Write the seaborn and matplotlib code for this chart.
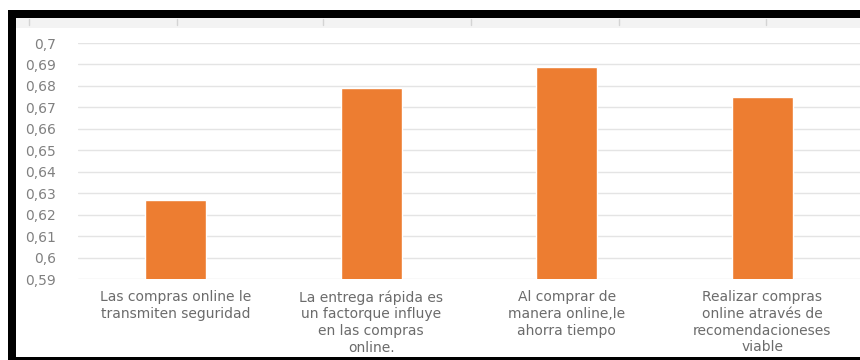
import matplotlib
matplotlib.use("Agg")
import matplotlib.pyplot as plt
from matplotlib.patches import Rectangle
from matplotlib.lines import Line2D
from matplotlib.ticker import FuncFormatter, MultipleLocator
import pandas as pd
import seaborn as sns

# Survey items and their mean scores
categories = [
    "Las compras online le\ntransmiten seguridad",
    "La entrega rápida es\nun factorque influye\nen las compras\nonline.",
    "Al comprar de\nmanera online,le\nahorra tiempo",
    "Realizar compras\nonline através de\nrecomendacioneses\nviable",
]
scores = [0.627, 0.679, 0.689, 0.675]
y_min, y_max, y_step = 0.59, 0.70, 0.01

df = pd.DataFrame({"item": categories, "score": scores})

sns.set_style("white")
plt.rcParams["font.family"] = ["DejaVu Sans"]

W, H = 860, 360
fig = plt.figure(figsize=(W / 100, H / 100), dpi=100)
fig.patch.set_facecolor("white")

# plot area in pixel terms
left_px, right_px = 78, 860
top_px, bottom_px = 43, 279
ax = fig.add_axes([left_px / W, 1 - bottom_px / H,
                   (right_px - left_px) / W, (bottom_px - top_px) / H])

sns.barplot(data=df, x="item", y="score", color="#ED7D31", width=0.31,
            saturation=1, ax=ax, zorder=3)

ax.set_ylim(y_min, y_max)
ax.set_xlim(-0.5, len(categories) - 0.5)
ax.yaxis.set_major_locator(MultipleLocator(y_step))


def comma_fmt(v, _):
    s = f"{v:.2f}".rstrip("0").rstrip(".")
    return s.replace(".", ",")


ax.yaxis.set_major_formatter(FuncFormatter(comma_fmt))
ax.grid(axis="y", color="#e4e4e4", linewidth=1.0, zorder=0)
ax.grid(axis="x", visible=False)
for s in ax.spines.values():
    s.set_visible(False)
ax.set_xlabel("")
ax.set_ylabel("")
ax.tick_params(axis="y", length=0, pad=16, labelsize=10, labelcolor="#808080")
ax.tick_params(axis="x", length=0, pad=8, labelsize=10, labelcolor="#6b6b6b")
for lab in ax.get_xticklabels():
    lab.set_linespacing(1.25)
    lab.set_horizontalalignment("center")

# frame around the chart
def px_rect(x0, y0, x1, y1, color):
    fig.patches.append(Rectangle((x0 / W, 1 - y1 / H), (x1 - x0) / W, (y1 - y0) / H,
                                 transform=fig.transFigure, facecolor=color,
                                 edgecolor="none", zorder=10))

px_rect(16, 18, 860, 28, "#f3f3f3")
px_rect(8, 10, 860, 18, "black")
px_rect(8, 10, 16, 360, "black")
px_rect(8, 357, 860, 360, "black")

for xt in [29, 177, 323, 471, 619, 766]:
    fig.lines.append(Line2D([xt / W, xt / W], [1 - 19 / H, 1 - 25 / H],
                            transform=fig.transFigure, color="#d4d4d4",
                            linewidth=1, zorder=11))

fig.savefig("out.png", dpi=100, facecolor="white")
